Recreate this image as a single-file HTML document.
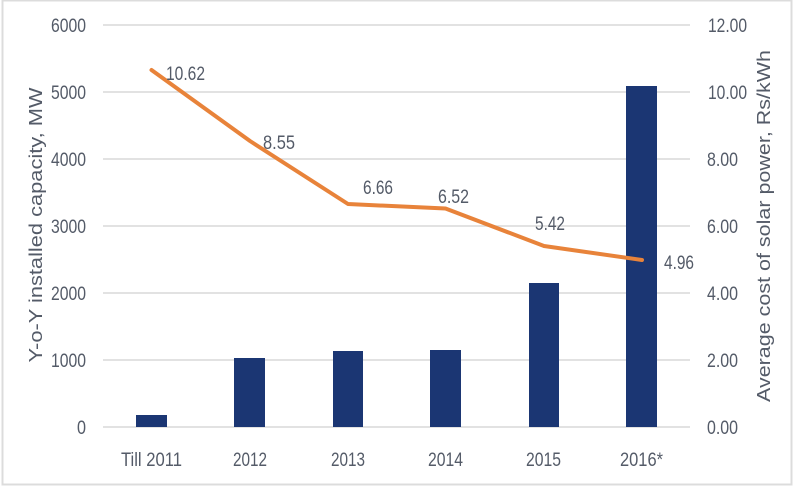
<!DOCTYPE html>
<html><head><meta charset="utf-8"><style>
html,body{margin:0;padding:0;background:#fff;}
svg{display:block;}
text{font-family:"Liberation Sans",sans-serif;fill:#545b68;}
</style></head><body>
<svg width="794" height="487" viewBox="0 0 794 487" xmlns="http://www.w3.org/2000/svg">
<rect x="0" y="0" width="794" height="487" fill="#fff"/>
<rect x="2.5" y="0.5" width="789" height="484" fill="none" stroke="#dcdcdc" stroke-width="2"/>
<g stroke="#d9d9d9" stroke-width="1.6">
<line x1="103" y1="25" x2="690" y2="25"/>
<line x1="103" y1="92" x2="690" y2="92"/>
<line x1="103" y1="159" x2="690" y2="159"/>
<line x1="103" y1="226" x2="690" y2="226"/>
<line x1="103" y1="293" x2="690" y2="293"/>
<line x1="103" y1="360" x2="690" y2="360"/>
<line x1="103" y1="427" x2="690" y2="427"/>
</g>
<g fill="#1b3673">
<rect x="136" y="415" width="31" height="12"/>
<rect x="234" y="358" width="31" height="69"/>
<rect x="333" y="351" width="30" height="76"/>
<rect x="430" y="350" width="31" height="77"/>
<rect x="529" y="283" width="30" height="144"/>
<rect x="626" y="86" width="31" height="341"/>
</g>
<polyline points="151.5,70 250,141 348,204 445.5,208.5 544,246 642,260" fill="none" stroke="#e8833a" stroke-width="4" stroke-linejoin="round" stroke-linecap="round"/>
<g font-size="19">
<text x="86" y="32" text-anchor="end" textLength="35" lengthAdjust="spacingAndGlyphs">6000</text>
<text x="86" y="99" text-anchor="end" textLength="35" lengthAdjust="spacingAndGlyphs">5000</text>
<text x="86" y="166" text-anchor="end" textLength="35" lengthAdjust="spacingAndGlyphs">4000</text>
<text x="86" y="233" text-anchor="end" textLength="35" lengthAdjust="spacingAndGlyphs">3000</text>
<text x="86" y="300" text-anchor="end" textLength="35" lengthAdjust="spacingAndGlyphs">2000</text>
<text x="86" y="367" text-anchor="end" textLength="35" lengthAdjust="spacingAndGlyphs">1000</text>
<text x="86" y="434" text-anchor="end" textLength="9" lengthAdjust="spacingAndGlyphs">0</text>

<text x="708" y="32" textLength="39" lengthAdjust="spacingAndGlyphs">12.00</text>
<text x="708" y="99" textLength="39" lengthAdjust="spacingAndGlyphs">10.00</text>
<text x="707" y="166" textLength="31" lengthAdjust="spacingAndGlyphs">8.00</text>
<text x="707" y="233" textLength="31" lengthAdjust="spacingAndGlyphs">6.00</text>
<text x="707" y="300" textLength="31" lengthAdjust="spacingAndGlyphs">4.00</text>
<text x="707" y="367" textLength="31" lengthAdjust="spacingAndGlyphs">2.00</text>
<text x="707" y="434" textLength="31" lengthAdjust="spacingAndGlyphs">0.00</text>

<text x="121" y="466" textLength="61" lengthAdjust="spacingAndGlyphs">Till 2011</text>
<text x="233" y="466" textLength="34" lengthAdjust="spacingAndGlyphs">2012</text>
<text x="331" y="466" textLength="34" lengthAdjust="spacingAndGlyphs">2013</text>
<text x="428" y="466" textLength="35" lengthAdjust="spacingAndGlyphs">2014</text>
<text x="526" y="466" textLength="35" lengthAdjust="spacingAndGlyphs">2015</text>
<text x="620" y="466" textLength="43" lengthAdjust="spacingAndGlyphs">2016*</text>

<text x="166" y="80" textLength="39" lengthAdjust="spacingAndGlyphs">10.62</text>
<text x="263" y="149" textLength="32" lengthAdjust="spacingAndGlyphs">8.55</text>
<text x="363" y="194" textLength="30" lengthAdjust="spacingAndGlyphs">6.66</text>
<text x="438" y="203" textLength="31" lengthAdjust="spacingAndGlyphs">6.52</text>
<text x="535" y="230" textLength="30" lengthAdjust="spacingAndGlyphs">5.42</text>
<text x="664" y="269" textLength="30" lengthAdjust="spacingAndGlyphs">4.96</text>
</g>
<text font-size="18" transform="translate(42,225) rotate(-90)" text-anchor="middle" textLength="275" lengthAdjust="spacingAndGlyphs">Y-o-Y installed capacity, MW</text>
<text font-size="18" transform="translate(770,226) rotate(-90)" text-anchor="middle" textLength="352" lengthAdjust="spacingAndGlyphs">Average cost of solar power, Rs/kWh</text>
</svg>
</body></html>
